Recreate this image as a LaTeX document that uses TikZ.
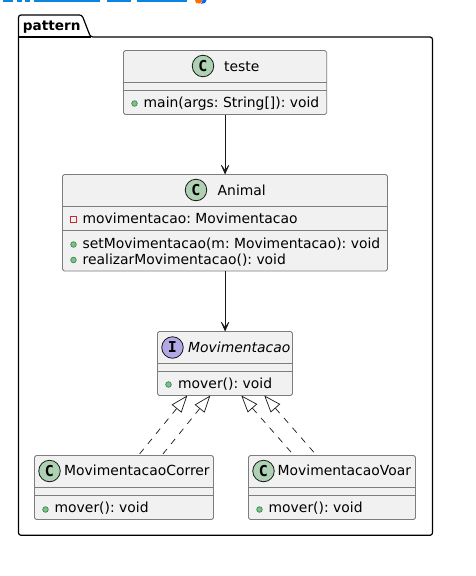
\documentclass[tikz,border=0pt]{standalone}
\usepackage{fontspec}
\setmainfont{DejaVu Sans}
\newfontfamily\spotfont{DejaVu Sans Mono}
\usetikzlibrary{arrows.meta,positioning}
\definecolor{boxfill}{HTML}{F1F1F1}
\definecolor{boxline}{HTML}{7D7D7D}
\definecolor{spotc}{HTML}{ADD1B2}
\definecolor{spoti}{HTML}{B4A7E5}
\definecolor{pubfill}{HTML}{84BE84}
\definecolor{publine}{HTML}{2E8B57}
\definecolor{privline}{HTML}{C82930}
\definecolor{linkc}{HTML}{181818}
\definecolor{hdrblue}{HTML}{0A84E0}
\tikzset{
 x=1pt,y=-1pt,
 umlbox/.style={draw=boxline,fill=boxfill,line width=0.8pt,rounded corners=1.8pt,inner sep=0pt,outer sep=0pt},
 divider/.style={draw=boxline,line width=0.8pt},
 spot/.style={circle,draw=linkc,line width=0.8pt,minimum size=21.5pt,inner sep=0pt,font=\fontsize{15}{15}\selectfont\spotfont\bfseries},
 txt/.style={inner sep=0pt,anchor=base west,font=\fontsize{13.9}{15}\selectfont\frenchspacing,text=black},
 pub/.style={circle,draw=publine,fill=pubfill,line width=0.7pt,minimum size=5.6pt,inner sep=0pt},
 priv/.style={rectangle,draw=privline,fill=none,line width=0.7pt,minimum size=5.6pt,inner sep=0pt},
 dep/.style={draw=linkc,line width=0.9pt,-{Stealth[length=12pt,width=10.5pt,inset=7.5pt,line width=0.6pt]}},
 impl/.style={draw=linkc,line width=0.7pt,dash pattern=on 6.5pt off 6.5pt,{Triangle[open,fill=white,length=17pt,width=12.5pt,line width=0.7pt]}-},
}
\begin{document}
\begin{tikzpicture}
\useasboundingbox (0,0) rectangle (476,576);
\fill[white] (0,0) rectangle (476,576);
% cut-off top strip of the source picture
\foreach \a/\b in {3/13,17/22,25/30,34/100,107/131,137/187}
  \fill[hdrblue] (\a,0) rectangle (\b,1.8);
\fill[orange!85!red] (195,0) -- (203,0) -- (200,3.6) -- (196,3) -- cycle;
\fill[blue!60!cyan] (203,0) -- (206.5,0) -- (205,3) -- (201,3.8) -- cycle;
% package
\draw[line width=1.2pt,draw=black,rounded corners=2.5pt]
 (18.5,37) -- (18.5,15) -- (82,15) -- (90.5,37) -- (432.5,37) -- (432.5,535.3) -- (18.5,535.3) -- cycle;
\draw[line width=1.2pt,draw=black] (18.5,37) -- (90.5,37);
\node[txt,font=\fontsize{13.6}{15}\selectfont\bfseries] (pkg) at (22.8,30.5) {pattern};

% teste
\node[umlbox,minimum width=203.2pt,minimum height=64pt] (teste) at (225.1,82.5) {};
\draw[divider] (123.5,82.5) -- (326.7,82.5) (123.5,90) -- (326.7,90);
\node[spot,fill=spotc] (testeS) at (203,66) {C};
\node[txt] (testeN) at (224,71) {teste};
\node[pub] (testeD) at (134.5,103.5) {};
\node[txt] (testeM) at (143.5,107.5) {main(args: String[]): void};

% Animal
\node[umlbox,minimum width=325pt,minimum height=96.5pt] (animal) at (225,222.75) {};
\draw[divider] (62.5,206.5) -- (387.5,206.5) (62.5,230.5) -- (387.5,230.5);
\node[spot,fill=spotc] (animalS) at (196,190) {C};
\node[txt] (animalN) at (217.5,195) {Animal};
\node[priv] (animalP) at (73.5,219.5) {};
\node[txt] (animalF) at (82.5,223.5) {movimentacao: Movimentacao};
\node[pub] (animalD1) at (73.5,244.5) {};
\node[txt] (animalM1) at (82.5,248) {setMovimentacao(m: Movimentacao): void};
\node[pub] (animalD2) at (73.5,260) {};
\node[txt] (animalM2) at (82.5,264) {realizarMovimentacao(): void};

% Movimentacao
\node[umlbox,minimum width=135pt,minimum height=64pt] (mov) at (225,363.5) {};
\draw[divider] (157.5,363.5) -- (292.5,363.5) (157.5,371.5) -- (292.5,371.5);
\node[spot,fill=spoti] (movS) at (172.5,347.5) {I};
\node[txt,font=\fontsize{13.9}{15}\selectfont\itshape] (movN) at (188,352) {Movimentacao};
\node[pub] (movD) at (168.5,384.5) {};
\node[txt] (movM) at (178,388.5) {mover(): void};

% MovimentacaoCorrer
\node[umlbox,minimum width=179pt,minimum height=64pt] (correr) at (124,487.5) {};
\draw[divider] (34.5,487.5) -- (213.5,487.5) (34.5,495.5) -- (213.5,495.5);
\node[spot,fill=spotc] (correrS) at (49.5,471) {C};
\node[txt] (correrN) at (64,475.5) {MovimentacaoCorrer};
\node[pub] (correrD) at (45.5,509.5) {};
\node[txt] (correrM) at (54.5,512.5) {mover(): void};

% MovimentacaoVoar
\node[umlbox,minimum width=167pt,minimum height=64pt] (voar) at (332,487.5) {};
\draw[divider] (248.5,487.5) -- (415.5,487.5) (248.5,495.5) -- (415.5,495.5);
\node[spot,fill=spotc] (voarS) at (263.5,471) {C};
\node[txt] (voarN) at (277.5,475.5) {MovimentacaoVoar};
\node[pub] (voarD) at (259.5,509.5) {};
\node[txt] (voarM) at (268.5,512.5) {mover(): void};

% connectors
\draw[dep] (teste.south) -- ([xshift=0.1pt]animal.north);
\draw[dep] ([xshift=0.1pt]animal.south) -- ([xshift=0.1pt]mov.north);
\draw[impl] ([xshift=-37.7pt]mov.south) -- ([xshift=14.3pt]correr.north);
\draw[impl] ([xshift=-14.7pt]mov.south) -- ([xshift=37.7pt]correr.north);
\draw[impl] ([xshift=16.3pt]mov.south) -- ([xshift=-38pt]voar.north);
\draw[impl] ([xshift=39.3pt]mov.south) -- ([xshift=-15.3pt]voar.north);
\end{tikzpicture}
\end{document}
